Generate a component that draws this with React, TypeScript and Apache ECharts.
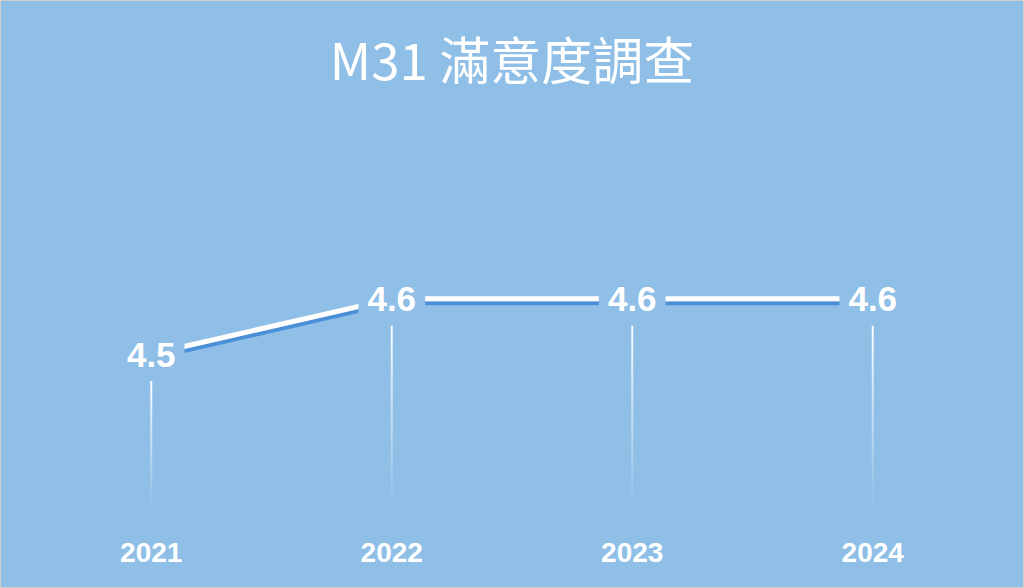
import React, { useEffect, useRef } from "react";
import * as echarts from "echarts";

const titleText = "M31 滿意度調查";
const years = ["2021", "2022", "2023", "2024"];
const scores = [4.5, 4.6, 4.6, 4.6];

const BG = "#8FBFE7";
const Y_MIN = 4.2;
const Y_MAX = 4.8;

export default function App() {
  const ref = useRef<HTMLDivElement>(null);
  useEffect(() => {
    if (!ref.current) return;
    const chart = echarts.init(ref.current, undefined, { renderer: "svg" });
    chart.setOption({
      animation: false,
      backgroundColor: BG,
      title: {
        text: titleText,
        left: "center",
        top: 26,
        textStyle: {
          color: "#ffffff",
          fontSize: 51,
          fontWeight: "normal",
          fontFamily: "'Noto Sans CJK TC', 'Noto Sans', sans-serif",
        },
      },
      grid: { left: 30, right: 30, top: 187.5, bottom: 67.5 },
      xAxis: {
        type: "category",
        data: years,
        boundaryGap: true,
        axisLine: { show: false },
        axisTick: { show: false },
        splitLine: { show: false },
        axisLabel: {
          color: "#ffffff",
          fontSize: 28,
          fontWeight: "bold",
          fontFamily: "Liberation Sans, Arial, sans-serif",
          margin: 19,
        },
      },
      yAxis: {
        type: "value",
        min: Y_MIN,
        max: Y_MAX,
        show: false,
      },
      series: [
        {
          type: "custom",
          z: 1,
          data: scores.map((v, i) => [i, v]),
          renderItem: (params: any, api: any) => {
            const p = api.coord([api.value(0), api.value(1)]);
            const b = api.coord([api.value(0), Y_MIN])[1] - 12;
            const y1 = p[1] + 27;
            return {
              type: "line",
              shape: { x1: p[0], y1, x2: p[0], y2: b },
              style: {
                lineWidth: 2,
                stroke: new echarts.graphic.LinearGradient(
                  p[0], y1, p[0], b,
                  [
                    { offset: 0, color: "rgba(255,255,255,0.95)" },
                    { offset: 1, color: "rgba(255,255,255,0)" },
                  ],
                  true
                ),
              },
            };
          },
        },
        {
          type: "line",
          z: 3,
          data: scores,
          symbol: "circle",
          symbolSize: 1,
          showSymbol: true,
          itemStyle: { color: "rgba(0,0,0,0)" },
          lineStyle: {
            color: "#ffffff",
            width: 5,
            shadowColor: "#4A90D9",
            shadowOffsetY: 4,
            shadowOffsetX: 0,
            shadowBlur: 0,
          },
          label: {
            show: true,
            position: "inside",
            color: "#ffffff",
            fontSize: 35,
            fontWeight: "bold",
            fontFamily: "Liberation Sans, Arial, sans-serif",
            backgroundColor: BG,
            padding: [3, 9, 3, 9],
            formatter: (p: any) => Number(p.value).toFixed(1),
          },
        },
      ],
    });
    return () => chart.dispose();
  }, []);
  return (
    <div
      ref={ref}
      style={{
        position: "fixed",
        left: 0,
        top: 0,
        width: 1024,
        height: 588,
        boxSizing: "border-box",
        border: "1px solid #d0d0d0",
      }}
    />
  );
}
